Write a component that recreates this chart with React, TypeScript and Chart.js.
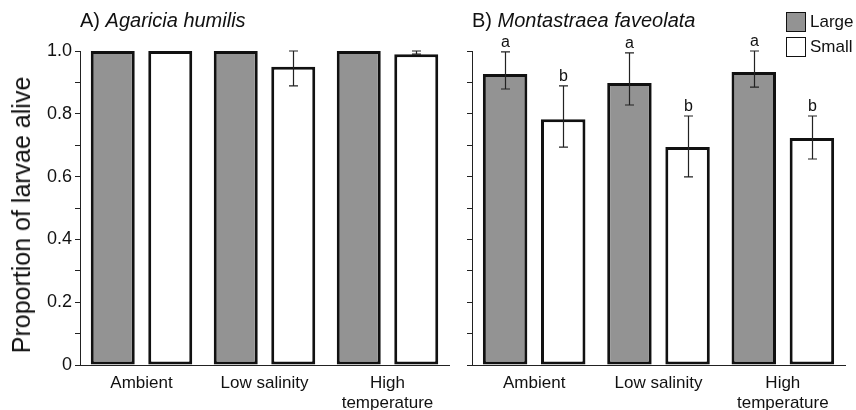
import React, { useEffect, useRef } from 'react';
import { Chart, registerables } from 'chart.js';
Chart.register(...registerables);

const categories: (string | string[])[] = ['Ambient', 'Low salinity', ['High', 'temperature']];
const seriesNames = ['Large', 'Small'];

// Panel A: Agaricia humilis
const agariciaLarge = [1.0, 1.0, 1.0];
const agariciaLargeLow: (number | null)[] = [null, null, null];
const agariciaLargeHigh: (number | null)[] = [null, null, null];
const agariciaSmall = [1.0, 0.95, 0.99];
const agariciaSmallLow: (number | null)[] = [null, 0.889, 0.99];
const agariciaSmallHigh: (number | null)[] = [null, 1.0, 1.0];

// Panel B: Montastraea faveolata
const montLarge = [0.927, 0.898, 0.933];
const montLargeLow: (number | null)[] = [0.879, 0.828, 0.885];
const montLargeHigh: (number | null)[] = [0.997, 0.994, 1.0];
const montSmall = [0.783, 0.694, 0.723];
const montSmallLow: (number | null)[] = [0.694, 0.599, 0.656];
const montSmallHigh: (number | null)[] = [0.889, 0.793, 0.793];
const montLargeLetters = ['a', 'a', 'a'];
const montSmallLetters = ['b', 'b', 'b'];

const FONT = "'Liberation Sans', Arial, Helvetica, sans-serif";
const GRAY = '#939393';

type Err = { low: (number | null)[]; high: (number | null)[]; letters?: string[] };

function errorPlugin(errs: Err[]) {
  return {
    id: 'errbars',
    afterDatasetsDraw(chart: any) {
      const ctx = chart.ctx;
      const y = chart.scales.y;
      errs.forEach((e, d) => {
        const meta = chart.getDatasetMeta(d);
        meta.data.forEach((bar: any, i: number) => {
          const lo = e.low[i];
          const hi = e.high[i];
          const x = Math.round(bar.x) + 0.5;
          if (lo != null && hi != null) {
            const y1 = y.getPixelForValue(lo);
            const y2 = y.getPixelForValue(hi);
            ctx.save();
            ctx.strokeStyle = '#222';
            ctx.lineWidth = 1.2;
            ctx.beginPath();
            ctx.moveTo(x, y1);
            ctx.lineTo(x, y2);
            ctx.moveTo(x - 4.5, y1);
            ctx.lineTo(x + 4.5, y1);
            ctx.moveTo(x - 4.5, y2);
            ctx.lineTo(x + 4.5, y2);
            ctx.stroke();
            ctx.restore();
          }
          if (e.letters && e.letters[i]) {
            const top = hi != null ? hi : chart.data.datasets[d].data[i];
            ctx.save();
            ctx.fillStyle = '#111';
            ctx.font = `16px ${FONT}`;
            ctx.textAlign = 'center';
            ctx.textBaseline = 'alphabetic';
            ctx.fillText(e.letters[i], x, y.getPixelForValue(top) - 5);
            ctx.restore();
          }
        });
      });
    },
  };
}

function makeConfig(large: number[], small: number[], errs: Err[], showYLabels: boolean, yWidth: number, rightPad: number): any {
  return {
    type: 'bar',
    data: {
      labels: categories,
      datasets: [
        { label: seriesNames[0], data: large, backgroundColor: GRAY, borderColor: '#111', borderWidth: 3, borderSkipped: false },
        { label: seriesNames[1], data: small, backgroundColor: '#ffffff', borderColor: '#111', borderWidth: 3, borderSkipped: false },
      ],
    },
    options: {
      responsive: false,
      animation: false,
      events: [],
      layout: { padding: { top: 51, right: rightPad, bottom: 0, left: 0 } },
      datasets: { bar: { categoryPercentage: 0.935, barPercentage: 0.765 } },
      plugins: { legend: { display: false }, tooltip: { enabled: false }, title: { display: false } },
      scales: {
        x: {
          grid: { display: false, drawTicks: false },
          border: { display: true, color: '#222', width: 1 },
          ticks: { color: '#111', font: { family: FONT, size: 17 }, padding: 8, maxRotation: 0, autoSkip: false },
          afterFit: (s: any) => { s.height = 45; },
        },
        y: {
          min: 0,
          max: 1,
          grid: { display: true, drawOnChartArea: false, drawTicks: true, tickLength: 5, color: '#222' },
          border: { display: true, color: '#222', width: 1 },
          ticks: {
            stepSize: 0.1,
            color: '#111',
            padding: 3,
            font: { family: FONT, size: 18 },
            callback: (v: number) => {
              if (!showYLabels) return '';
              const k = Math.round(v * 10);
              if (k % 2 !== 0) return '';
              return k === 0 ? '0' : (k / 10).toFixed(1);
            },
          },
          afterFit: (s: any) => { s.width = yWidth; },
        },
      },
    },
    plugins: [errorPlugin(errs)],
  };
}

export default function App() {
  const refA = useRef<HTMLCanvasElement>(null);
  const refB = useRef<HTMLCanvasElement>(null);

  useEffect(() => {
    const a = new Chart(refA.current!, makeConfig(agariciaLarge, agariciaSmall, [
      { low: agariciaLargeLow, high: agariciaLargeHigh },
      { low: agariciaSmallLow, high: agariciaSmallHigh },
    ], true, 80, 1));
    const b = new Chart(refB.current!, makeConfig(montLarge, montSmall, [
      { low: montLargeLow, high: montLargeHigh, letters: montLargeLetters },
      { low: montSmallLow, high: montSmallHigh, letters: montSmallLetters },
    ], false, 22, 11));
    return () => { a.destroy(); b.destroy(); };
  }, []);

  const titleStyle: React.CSSProperties = { position: 'absolute', top: 9, fontFamily: FONT, fontSize: 20, lineHeight: '22px', color: '#111', whiteSpace: 'nowrap' };
  const legText: React.CSSProperties = { position: 'absolute', left: 810, fontFamily: FONT, fontSize: 17, lineHeight: '20px', color: '#111' };
  const box: React.CSSProperties = { position: 'absolute', left: 786, width: 20, height: 20, boxSizing: 'border-box', border: '1.5px solid #111' };

  return (
    <div style={{ position: 'fixed', left: 0, top: 0, width: 856, height: 410, background: '#fff', overflow: 'hidden' }}>
      <canvas ref={refA} width={450} height={410} style={{ position: 'absolute', left: 0, top: 0, width: 450, height: 410 }} />
      <canvas ref={refB} width={406} height={410} style={{ position: 'absolute', left: 450, top: 0, width: 406, height: 410 }} />
      <div style={{ ...titleStyle, left: 80 }}>A) <i>Agaricia humilis</i></div>
      <div style={{ ...titleStyle, left: 472 }}>B) <i>Montastraea faveolata</i></div>
      <div style={{ position: 'absolute', left: 21, top: 215, transform: 'translate(-50%, -50%) rotate(-90deg)', fontFamily: FONT, fontSize: 25, lineHeight: '28px', color: '#111', whiteSpace: 'nowrap' }}>Proportion of larvae alive</div>
      <div style={{ ...box, top: 12, background: GRAY }} />
      <div style={{ ...legText, top: 12 }}>{seriesNames[0]}</div>
      <div style={{ ...box, top: 37, background: '#fff' }} />
      <div style={{ ...legText, top: 37 }}>{seriesNames[1]}</div>
    </div>
  );
}
